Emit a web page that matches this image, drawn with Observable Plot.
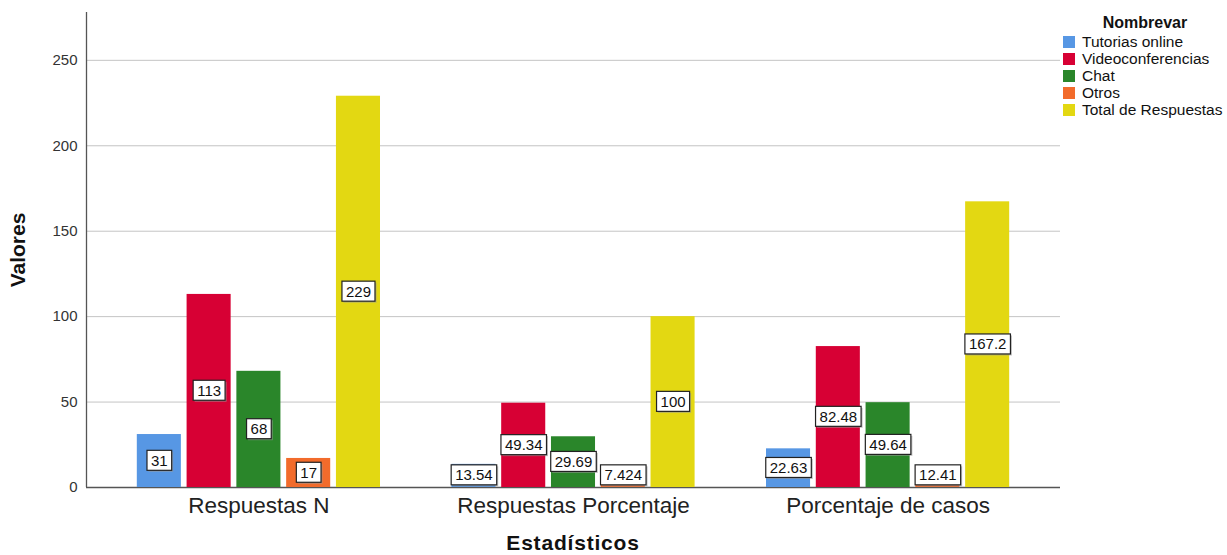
<!DOCTYPE html>
<html><head><meta charset="utf-8">
<script src="https://cdn.jsdelivr.net/npm/d3@7"></script>
<script src="https://cdn.jsdelivr.net/npm/@observablehq/plot@0.6"></script>
<style>
body{margin:0;background:#fff;font-family:"Liberation Sans",Arial,sans-serif;}
#wrap{position:relative;width:1227px;height:555px;overflow:hidden;}
#bg,#fg{position:absolute;left:0;top:0;}
#legend{position:absolute;left:1062px;top:13px;font-size:15.5px;color:#111;}
#legend .ttl{font-weight:bold;font-size:16px;text-align:center;width:162px;margin-left:2px;line-height:19px;margin-bottom:1px;}
#legend .it{display:flex;align-items:center;height:17px;white-space:nowrap;}
#legend .sw{width:12px;height:12px;margin-left:1px;margin-right:7px;}
.axt{position:absolute;font-weight:bold;font-size:21px;line-height:16px;color:#111;}
</style></head><body>
<div id="wrap"><div id="bg"></div><div id="fg"></div><div id="legend"></div>
<div class="axt" id="xt" style="left:573px;top:535px;transform:translateX(-50%);letter-spacing:0.8px;">Estadísticos</div>
<div class="axt" id="yt" style="left:18px;top:250px;transform:translate(-50%,-50%) rotate(-90deg);">Valores</div>
</div>
<script>
const categories = ["Respuestas N", "Respuestas Porcentaje", "Porcentaje de casos"];
const seriesNames = ["Tutorias online", "Videoconferencias", "Chat", "Otros", "Total de Respuestas"];
const respuestasN = [31, 113, 68, 17, 229];
const respuestasPorcentaje = [13.54, 49.34, 29.69, 7.424, 100];
const porcentajeCasos = [22.63, 82.48, 49.64, 12.41, 167.2];
const seriesColors = ["#5797e4", "#d70034", "#2a862a", "#f26b2b", "#e3d812"];
const yTicks = [0, 50, 100, 150, 200, 250];

const rows = [];
[respuestasN, respuestasPorcentaje, porcentajeCasos].forEach((vals, i) =>
  vals.forEach((v, j) => rows.push({cat: categories[i], series: seriesNames[j], value: v})));

const common = {
  width: 1227, height: 555,
  marginLeft: 86, marginRight: 167, marginTop: 12, marginBottom: 68,
  style: {fontFamily: "'Liberation Sans', Arial, sans-serif", background: "transparent"}
};

const bg = Plot.plot({
  ...common,
  x: {domain: [0, 1], axis: null},
  y: {domain: [0, 278], label: null, axis: null},
  marks: [
    Plot.ruleY(yTicks.slice(1), {stroke: "#c4c4c4", strokeWidth: 1}),
    Plot.ruleY([0], {stroke: "#555", strokeWidth: 1.3}),
    Plot.ruleX([0], {stroke: "#555", strokeWidth: 1.3}),
    Plot.axisY(yTicks, {tickSize: 0, tickPadding: 9, fontSize: 15, fill: "#333", label: null})
  ]
});
document.getElementById("bg").append(bg);

const plot = Plot.plot({
  ...common,
  fx: {domain: categories, paddingInner: 0.227, paddingOuter: 0.1615, round: false, label: null},
  x: {domain: seriesNames, paddingInner: 0.115, paddingOuter: 0, round: false, axis: null},
  y: {domain: [0, 278], label: null, axis: null},
  color: {domain: seriesNames, range: seriesColors},
  marks: [
    Plot.barY(rows, {fx: "cat", x: "series", y: "value", fill: "series"}),
    Plot.axisFx({anchor: "bottom", tickSize: 0, tickPadding: 10, fontSize: 22.5, fill: "#222", label: null}),
    Plot.text(rows, {fx: "cat", x: "series", y: d => Math.max(d.value / 2, 7), text: d => String(d.value),
      fill: "#111", fontSize: 15})
  ]
});
document.getElementById("fg").append(plot);

plot.querySelectorAll('g[aria-label="text"] text').forEach(t => {
  const b = t.getBBox();
  const ns = "http://www.w3.org/2000/svg";
  const tr = t.getAttribute("transform");
  const sh = document.createElementNS(ns, "rect");
  sh.setAttribute("x", b.x - 4 + 1.5); sh.setAttribute("y", b.y - 1.5 + 1.5);
  sh.setAttribute("width", b.width + 8); sh.setAttribute("height", b.height + 3);
  sh.setAttribute("fill", "#999"); sh.setAttribute("opacity", "0.6");
  const r = document.createElementNS(ns, "rect");
  r.setAttribute("x", b.x - 4); r.setAttribute("y", b.y - 1.5);
  r.setAttribute("width", b.width + 8); r.setAttribute("height", b.height + 3);
  r.setAttribute("fill", "#fff"); r.setAttribute("stroke", "#222"); r.setAttribute("stroke-width", "1.2");
  if (tr) { r.setAttribute("transform", tr); sh.setAttribute("transform", tr); }
  t.parentNode.insertBefore(sh, t);
  t.parentNode.insertBefore(r, t);
});

const leg = document.getElementById("legend");
const ttl = document.createElement("div"); ttl.className = "ttl"; ttl.textContent = "Nombrevar"; leg.append(ttl);
seriesNames.forEach((s, i) => {
  const it = document.createElement("div"); it.className = "it";
  const sw = document.createElement("div"); sw.className = "sw"; sw.style.background = seriesColors[i];
  const tx = document.createElement("span"); tx.textContent = s;
  it.append(sw, tx); leg.append(it);
});
</script>
</body></html>
